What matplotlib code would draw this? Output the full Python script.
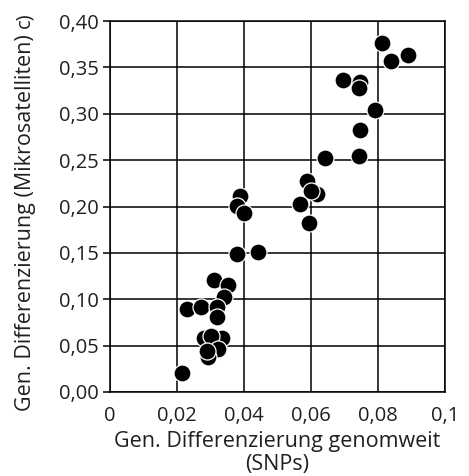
import matplotlib
matplotlib.use("Agg")
import matplotlib.pyplot as plt

matplotlib.rcParams['font.family'] = ['Open Sans', 'DejaVu Sans']
matplotlib.rcParams['font.size'] = 14.5

# genome-wide differentiation (SNPs) vs. microsatellite differentiation
snp = [0.0811, 0.0838, 0.0890, 0.0695, 0.0747, 0.0742, 0.0790, 0.0747,
       0.0742, 0.0643, 0.0589, 0.0617, 0.0600, 0.0388, 0.0378, 0.0400,
       0.0567, 0.0595, 0.0378, 0.0442, 0.0310, 0.0351, 0.0341, 0.0230,
       0.0272, 0.0320, 0.0318, 0.0281, 0.0333, 0.0301, 0.0323, 0.0293,
       0.0289, 0.0215]
msat = [0.376, 0.357, 0.363, 0.336, 0.334, 0.328, 0.304, 0.283,
        0.254, 0.252, 0.228, 0.214, 0.217, 0.211, 0.201, 0.193,
        0.203, 0.182, 0.149, 0.151, 0.121, 0.115, 0.102, 0.090,
        0.092, 0.092, 0.081, 0.058, 0.058, 0.060, 0.046, 0.038,
        0.044, 0.021]

xticks = [0, 0.02, 0.04, 0.06, 0.08, 0.1]
xticklabels = ['0', '0,02', '0,04', '0,06', '0,08', '0,1']
yticks = [0.0, 0.05, 0.10, 0.15, 0.20, 0.25, 0.30, 0.35, 0.40]
yticklabels = ['0,00', '0,05', '0,10', '0,15', '0,20', '0,25', '0,30', '0,35', '0,40']

txt = '#231f20'

fig = plt.figure(figsize=(4.69, 4.76), dpi=100)
ax = fig.add_axes([110/469, 84/476, 335/469, 371/476])

ax.scatter(snp, msat, s=150, c='black', edgecolors='white', linewidths=0.9, zorder=3)

ax.set_xlim(0, 0.1)
ax.set_ylim(0, 0.4)
ax.set_xticks(xticks)
ax.set_xticklabels(xticklabels)
ax.set_yticks(yticks)
ax.set_yticklabels(yticklabels)
ax.grid(True, color='black', linewidth=1.1)
ax.set_axisbelow(True)
for sp in ax.spines.values():
    sp.set_color('black')
    sp.set_linewidth(1.1)
ax.tick_params(axis='x', length=0, pad=10, colors=txt)
ax.tick_params(axis='y', length=5, width=1.1, color='black', labelcolor=txt, pad=3)

ax.set_xlabel('Gen. Differenzierung genomweit\n(SNPs)', color=txt, linespacing=1.1, fontsize=15.5)
ax.xaxis.set_label_coords(0.5, -0.106)
ax.set_ylabel('Gen. Differenzierung (Mikrosatelliten)', color=txt, fontsize=15.5)
ax.yaxis.set_label_coords(-0.222, 0.4555)
fig.text(24/469, 1 - 20/476, 'c)', rotation=90, color=txt, ha='center', va='center', fontsize=14.5)

fig.savefig('out.png', dpi=100)
